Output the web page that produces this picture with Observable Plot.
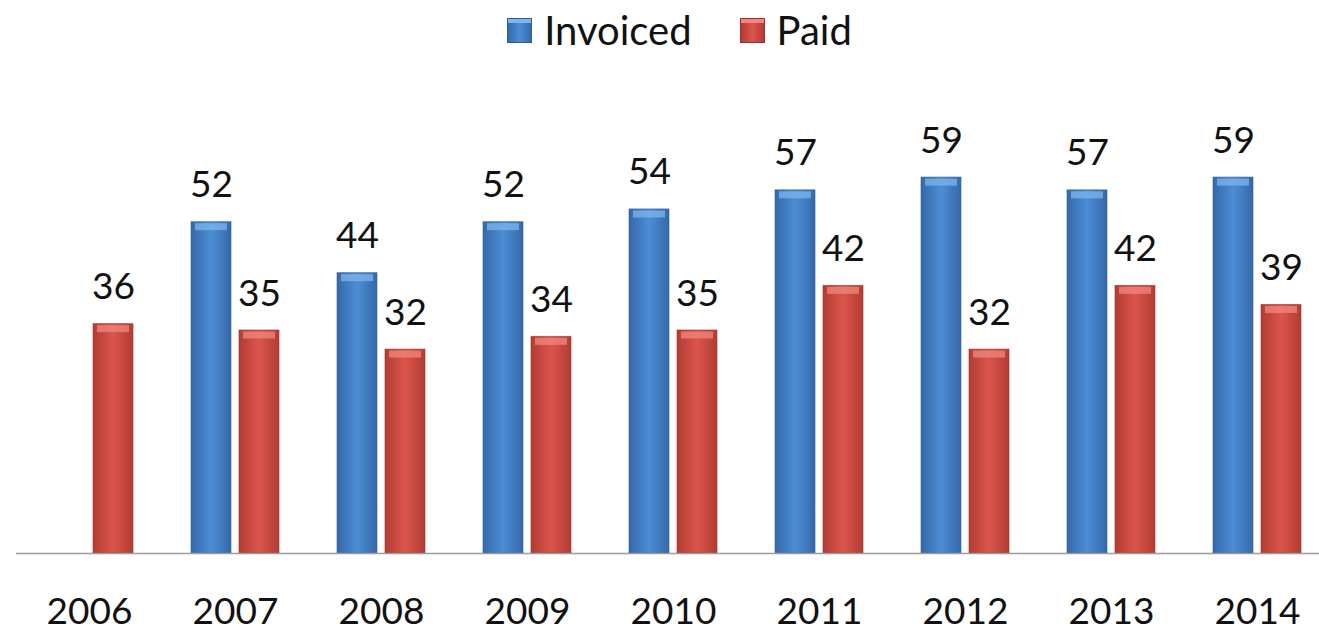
<!DOCTYPE html>
<html>
<head>
<meta charset="utf-8">
<script src="https://cdn.jsdelivr.net/npm/d3@7"></script>
<script src="https://cdn.jsdelivr.net/npm/@observablehq/plot@0.6"></script>
<style>
  html, body { margin: 0; padding: 0; background: #fff; overflow: hidden; }
  body { width: 1319px; height: 632px; font-family: Lato, "Open Sans", sans-serif; }
  #legend { height: 60px; display: flex; justify-content: center; align-items: center; padding-left: 40px; box-sizing: border-box; font-size: 40px; color: #111; }
  .item { display: flex; align-items: center; }
  .item + .item { margin-left: 48px; }
  .sw { width: 25px; height: 25px; margin-right: 12px; box-sizing: border-box; }
  #chart svg { display: block; }
</style>
</head>
<body>
<div id="legend"></div>
<div id="chart"></div>
<script>
// ---- data ----
const years = ["2006", "2007", "2008", "2009", "2010", "2011", "2012", "2013", "2014"];
const series = ["Invoiced", "Paid"];
const invoiced = [null, 52, 44, 52, 54, 57, 59, 57, 59];
const paid = [36, 35, 32, 34, 35, 42, 32, 42, 39];

// ---- styles ----
const grads = {
  Invoiced: {id: "gInv", edge: "#3569A8", mid: "#4C8DD6", top: "#7DB5EC", line: "#2F5E96"},
  Paid: {id: "gPaid", edge: "#B23C33", mid: "#DB554C", top: "#F2877F", line: "#9C3029"}
};

// table built from arrays
const rows = [];
years.forEach((y, i) => {
  if (invoiced[i] != null) rows.push({year: y, series: "Invoiced", value: invoiced[i]});
  if (paid[i] != null) rows.push({year: y, series: "Paid", value: paid[i]});
});

// legend
const legend = document.getElementById("legend");
series.forEach(s => {
  const g = grads[s];
  const it = document.createElement("div");
  it.className = "item";
  const sw = document.createElement("div");
  sw.className = "sw";
  sw.style.background = `linear-gradient(to right, ${g.edge}, ${g.mid} 50%, ${g.edge})`;
  sw.style.border = `1px solid ${g.line}`;
  sw.style.boxShadow = `inset 0 4px 0 ${g.top}`;
  const t = document.createElement("span");
  t.textContent = s;
  it.appendChild(sw);
  it.appendChild(t);
  legend.appendChild(it);
});

const left = 14;
const bandW = (1332 - left) / years.length;

const chart = Plot.plot({
  width: 1319,
  height: 572,
  marginTop: 47,
  marginBottom: 79,
  marginLeft: left,
  marginRight: 0,
  style: {fontFamily: "Lato, 'Open Sans', sans-serif", fontSize: "37px", background: "#fff", overflow: "hidden", color: "#111"},
  fx: {domain: years, range: [left, 1332], padding: 0, label: null},
  x: {domain: series, range: [left, left + bandW], paddingInner: 0.163, paddingOuter: 0.576, axis: null},
  y: {domain: [0, 70], axis: null},
  color: {domain: series, range: series.map(s => `url(#${grads[s].id})`)},
  marks: [
    Plot.barY(rows, {fx: "year", x: "series", y: "value", fill: "series",
      stroke: d => grads[d.series].line, strokeWidth: 1, strokeOpacity: 0.6}),
    Plot.tickY(rows, {fx: "year", x: "series", y: "value", stroke: d => grads[d.series].top,
      strokeWidth: 7, dy: 4.5, insetLeft: 4, insetRight: 4, strokeOpacity: 0.75}),
    Plot.ruleY([0], {stroke: "#9b9b9b", strokeWidth: 1.5}),
    Plot.text(rows, {fx: "year", x: "series", y: "value", text: d => String(d.value),
      dy: -25, lineAnchor: "bottom", fontSize: 37, fill: "#111"}),
    Plot.axisFx({anchor: "bottom", tickSize: 0, tickPadding: 44, fontSize: 37, label: null, fill: "#111"})
  ]
});

// gradient definitions
const defs = d3.select(chart).insert("defs", ":first-child");
series.forEach(s => {
  const g = grads[s];
  const lg = defs.append("linearGradient").attr("id", g.id).attr("x1", 0).attr("x2", 1).attr("y1", 0).attr("y2", 0);
  lg.append("stop").attr("offset", "0%").attr("stop-color", g.edge);
  lg.append("stop").attr("offset", "50%").attr("stop-color", g.mid);
  lg.append("stop").attr("offset", "100%").attr("stop-color", g.edge);
});

document.getElementById("chart").appendChild(chart);
</script>
</body>
</html>
